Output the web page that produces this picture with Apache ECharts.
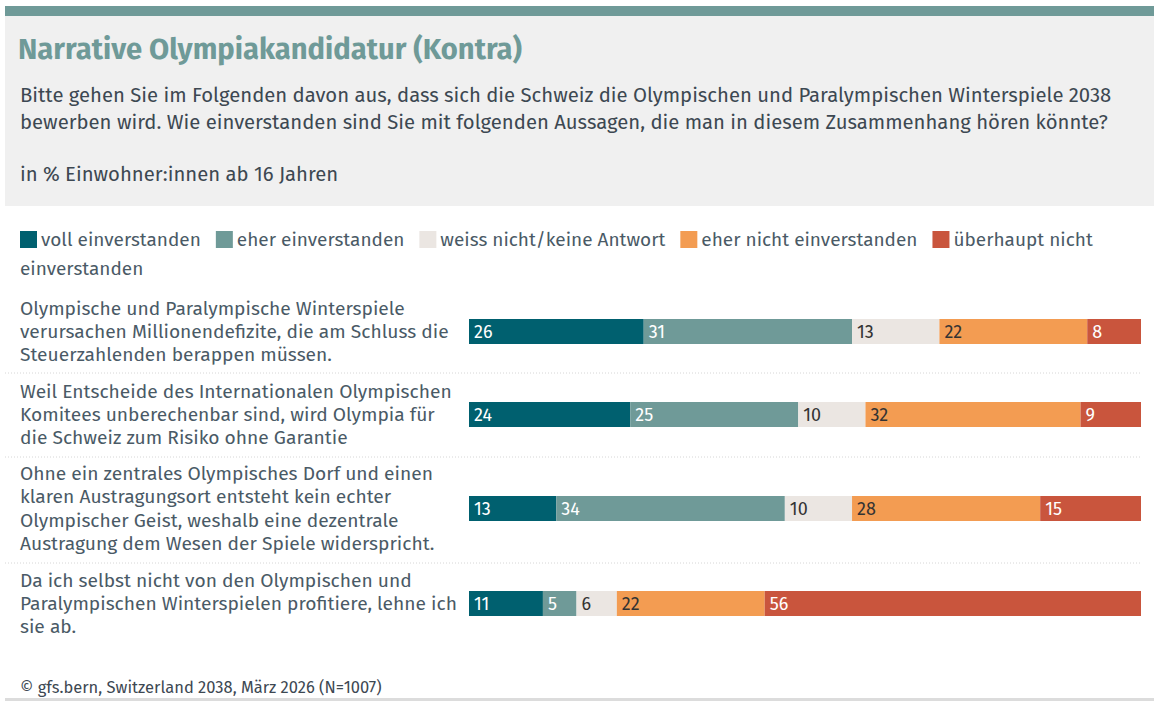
<!DOCTYPE html>
<html>
<head>
<meta charset="utf-8">
<script src="https://cdn.jsdelivr.net/npm/echarts@6/dist/echarts.min.js"></script>
<style>
  html, body { margin: 0; padding: 0; background: #fff; }
  #the-echart { width: 1154px; height: 702px; }
</style>
</head>
<body>
<div id="the-echart"></div>
<script>
// statements, one per row (line breaks as in the original)
const categories = [
  'Olympische und Paralympische Winterspiele\nverursachen Millionendefizite, die am Schluss die\nSteuerzahlenden berappen müssen.',
  'Weil Entscheide des Internationalen Olympischen\nKomitees unberechenbar sind, wird Olympia für\ndie Schweiz zum Risiko ohne Garantie',
  'Ohne ein zentrales Olympisches Dorf und einen\nklaren Austragungsort entsteht kein echter\nOlympischer Geist, weshalb eine dezentrale\nAustragung dem Wesen der Spiele widerspricht.',
  'Da ich selbst nicht von den Olympischen und\nParalympischen Winterspielen profitiere, lehne ich\nsie ab.'
]
const seriesNames = ['voll einverstanden', 'eher einverstanden', 'weiss nicht/keine Antwort', 'eher nicht einverstanden', 'überhaupt nicht einverstanden']
const vollEinverstanden = [26, 24, 13, 11]
const eherEinverstanden = [31, 25, 34, 5]
const weissNicht = [13, 10, 10, 6]
const eherNicht = [22, 32, 28, 22]
const ueberhauptNicht = [8, 9, 15, 56]

const values = [vollEinverstanden, eherEinverstanden, weissNicht, eherNicht, ueberhauptNicht]
const colors = ['#00606f', '#6f9a98', '#ebe6e2', '#f39c52', '#c9553d']
const labelColors = ['#ffffff', '#ffffff', '#333333', '#333333', '#ffffff']

const font = '"Fira Sans", "Noto Sans", sans-serif'
const textColor = '#4a5a66'

// bar rows are not evenly spaced, so one grid per row
const rowTops = [319, 402, 496, 591]
const barHeight = 25

const chart = echarts.init(document.getElementById('the-echart'), null, {renderer: 'svg'})

let grids = []
let xAxes = []
let yAxes = []
let series = []
rowTops.forEach((top, row) => {
  grids.push({left: 469, width: 672, top: top, height: barHeight})
  xAxes.push({type: 'value', gridIndex: row, min: 0, max: 100, show: false})
  yAxes.push({
    type: 'category',
    gridIndex: row,
    data: [categories[row]],
    axisLine: {show: false},
    axisTick: {show: false},
    axisLabel: {
      align: 'left',
      margin: 449,
      fontFamily: font,
      fontSize: 19.2,
      lineHeight: 23.4,
      color: textColor
    }
  })
  seriesNames.forEach((name, i) => {
    series.push({
      name: name,
      type: 'bar',
      stack: 'row' + row,
      xAxisIndex: row,
      yAxisIndex: row,
      barWidth: barHeight,
      itemStyle: {color: colors[i]},
      label: {
        show: true,
        position: 'insideLeft',
        distance: 5,
        fontFamily: font,
        fontSize: 18,
        color: labelColors[i]
      },
      emphasis: {disabled: true},
      data: [values[i][row]]
    })
  })
})

const separators = [373, 457, 563].map(y => {
  return {
    type: 'line',
    shape: {x1: 5, y1: y, x2: 1141, y2: y},
    style: {stroke: '#d6d6d6', lineWidth: 1, lineDash: [1, 2]}
  }
})

chart.setOption({
  animation: false,
  color: colors,
  grid: grids,
  xAxis: xAxes,
  yAxis: yAxes,
  legend: {
    left: 20,
    top: 230,
    padding: 0,
    width: 1130,
    icon: 'rect',
    itemWidth: 17,
    itemHeight: 17,
    itemGap: 15,
    selectedMode: false,
    textStyle: {fontFamily: font, fontSize: 19, color: textColor, padding: [0, 0, 0, -1]},
    formatter: function(name) {
      return name === 'überhaupt nicht einverstanden' ? 'überhaupt nicht' : name
    },
    data: seriesNames
  },
  graphic: [
    {type: 'rect', shape: {x: 5, y: 6, width: 1149, height: 10}, style: {fill: '#6f9a98'}, silent: true},
    {type: 'rect', shape: {x: 5, y: 16, width: 1149, height: 190}, style: {fill: '#f0f0f0'}, silent: true},
    {type: 'text', x: 18, y: 49, style: {text: 'Narrative Olympiakandidatur (Kontra)', fontFamily: font, fontSize: 29.2, fontWeight: 'bold', fill: '#6f9a98', verticalAlign: 'middle'}},
    {type: 'text', x: 20, y: 95, style: {text: 'Bitte gehen Sie im Folgenden davon aus, dass sich die Schweiz die Olympischen und Paralympischen Winterspiele 2038', fontFamily: font, fontSize: 20.3, fill: '#3d4852', verticalAlign: 'middle'}},
    {type: 'text', x: 20, y: 122, style: {text: 'bewerben wird. Wie einverstanden sind Sie mit folgenden Aussagen, die man in diesem Zusammenhang hören könnte?', fontFamily: font, fontSize: 20.3, fill: '#3d4852', verticalAlign: 'middle'}},
    {type: 'text', x: 20, y: 174, style: {text: 'in % Einwohner:innen ab 16 Jahren', fontFamily: font, fontSize: 20.3, fill: '#3d4852', verticalAlign: 'middle'}},
    {type: 'text', x: 20, y: 268, style: {text: 'einverstanden', fontFamily: font, fontSize: 19, fill: textColor, verticalAlign: 'middle'}},
    ...separators,
    {type: 'text', x: 20, y: 687, style: {text: '© gfs.bern, Switzerland 2038, März 2026 (N=1007)', fontFamily: font, fontSize: 16.5, fill: '#3d4852', verticalAlign: 'middle'}},
    {type: 'rect', shape: {x: 5, y: 698, width: 1149, height: 3}, style: {fill: '#dcdcdc'}, silent: true}
  ],
  series: series
})
</script>
</body>
</html>
